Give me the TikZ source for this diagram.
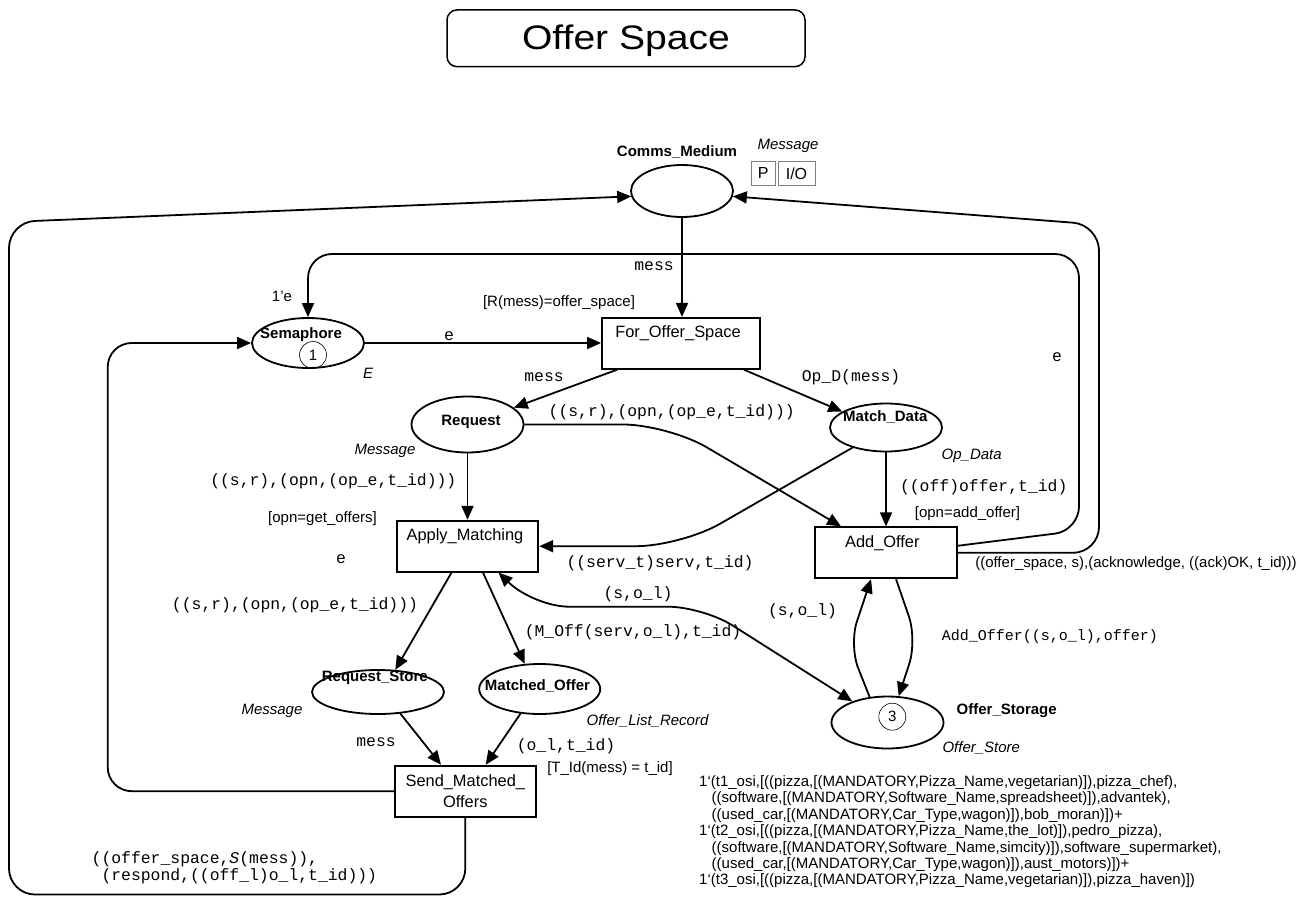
\documentclass[tikz,border=0pt]{standalone}
\usepackage{fontspec}
\usepackage{graphicx}
\setmainfont{Liberation Sans}
\setmonofont{Liberation Mono}
\usetikzlibrary{shapes.geometric,arrows.meta,calc}

\tikzset{
  place/.style={ellipse, draw, line width=1.8pt, inner sep=0pt},
  trans/.style={rectangle, draw, line width=1.8pt, inner sep=0pt},
  arc/.style={line width=1.8pt, -{Triangle[length=14pt,width=12pt]}},
  dblarc/.style={line width=1.8pt, {Triangle[length=14pt,width=12pt]}-{Triangle[length=14pt,width=12pt]}},
  pname/.style={inner sep=0pt, font=\fontsize{15}{17}\selectfont\bfseries},
  tname/.style={inner sep=0pt, font=\fontsize{16.4}{20.7}\selectfont},
  insc/.style={inner sep=0pt, font=\fontsize{16.4}{17.4}\selectfont\ttfamily},
  ptype/.style={inner sep=0pt, font=\fontsize{15}{17}\selectfont\itshape},
  guard/.style={inner sep=0pt, font=\fontsize{15}{17}\selectfont},
  token/.style={circle, draw, line width=0.6pt, minimum size=27pt, inner sep=0pt, font=\fontsize{15}{17}\selectfont},
  portbox/.style={rectangle, draw=gray, line width=0.8pt, minimum height=23.3pt, inner sep=0pt, font=\fontsize{16}{18}\selectfont}
}

\begin{document}
\begin{tikzpicture}[x=1pt,y=-1pt]
\useasboundingbox (0,0) rectangle (1313,904);

% page title
\node[draw, line width=1.5pt, rounded corners=10pt, minimum width=358pt, minimum height=56.7pt, inner sep=0pt] (title) at (626,38.3) {};
\node[anchor=base, inner sep=0pt, font=\fontsize{34}{40}\selectfont] (titletext) at (626,49.3) {\scalebox{1.15}[1]{Offer Space}};

% places
\node[place, minimum width=102pt, minimum height=52pt] (CM) at (682,191) {};
\node[place, minimum width=112pt, minimum height=50pt] (Sem) at (308,343) {};
\node[place, minimum width=112pt, minimum height=56pt] (Req) at (467.5,424.5) {};
\node[place, minimum width=112pt, minimum height=48pt] (MD) at (886,427.5) {};
\node[place, minimum width=132pt, minimum height=44pt] (RS) at (378,692) {};
\node[place, minimum width=121pt, minimum height=50pt] (MO) at (539.7,689) {};
\node[place, minimum width=112pt, minimum height=52pt] (OS) at (887.5,722.5) {};

% transitions
\node[trans, minimum width=158pt, minimum height=51pt] (FOS) at (681,343.3) {};
\node[trans, minimum width=141.6pt, minimum height=51pt] (AM) at (467.5,546.2) {};
\node[trans, minimum width=141.7pt, minimum height=51pt] (AO) at (885.8,552.8) {};
\node[trans, minimum width=140.7pt, minimum height=51pt, align=center, font=\fontsize{16.4}{20.7}\selectfont] (SMO) at (465.3,791.2) {Send\_Matched\_\\Offers};

% place names, colour sets, markings
\node[pname] (lCM) at (677,151.7) {Comms\_Medium};
\node[ptype] (tCM) at (788,146) {Message};
\node[portbox, minimum width=23.3pt] (pP) at (763.3,173.3) {P};
\node[portbox, minimum width=37pt] (pIO) at (796.5,173.3) {I/O};

\node[pname] (lSem) at (301,335) {Semaphore};
\node[token] (kSem) at (313,355) {1};
\node[ptype] (tSem) at (368,373.3) {E};
\node[guard] (iSem) at (282,296) {1'e};

\node[pname] (lReq) at (471,422) {Request};
\node[ptype] (tReq) at (385,450.7) {Message};
\node[pname] (lMD) at (885.3,416.7) {Match\_Data};
\node[ptype] (tMD) at (971.7,456) {Op\_Data};
\node[pname] (lRS) at (374.8,677.7) {Request\_Store};
\node[ptype] (tRS) at (272,710.7) {Message};
\node[pname] (lMO) at (537.5,686) {Matched\_Offer};
\node[ptype] (tMO) at (647.5,721) {Offer\_List\_Record};
\node[pname] (lOS) at (1006.7,710.7) {Offer\_Storage};
\node[ptype] (tOS) at (981.3,748.3) {Offer\_Store};
\node[token] (kOS) at (892.3,716.7) {3};

% transition names and guards
\node[tname] (lFOS) at (678,333.3) {For\_Offer\_Space};
\node[guard] (gFOS) at (559,302.3) {[R(mess)=offer\_space]};
\node[tname] (lAM) at (465,536.7) {Apply\_Matching};
\node[guard] (gAM) at (322.5,518.3) {[opn=get\_offers]};
\node[tname] (lAO) at (882.3,542.7) {Add\_Offer};
\node[guard] (gAO) at (967.5,513.3) {[opn=add\_offer]};
\node[guard] (gSMO) at (610,768.3) {[T\_Id(mess) = t\_id]};

% arcs
\draw[arc] (CM.south) -- (CM.south |- FOS.north);
\draw[arc] (Sem.east) -- (Sem.east -| FOS.west);
\draw[arc] ($(FOS.south west)+(16,0)$) -- (Req.20);
\draw[arc] ($(FOS.south east)+(-17,0)$) -- (MD.160);
\draw[arc] (Req.south) -- (Req.south |- AM.north);
\draw[arc, rounded corners=45pt] (Req.east) -- (668,424.5) -- ($(AO.north west)+(27,0)$);
\draw[arc, rounded corners=45pt] (MD.211) -- (681,546.2) -- (AM.east);
\draw[arc] (MD.south) -- (MD.south |- AO.north);
\draw[arc] ($(AM.south)+(-16,0)$) -- (RS.52);
\draw[arc] ($(AM.south)+(15.5,0)$) -- (MO.121);
\draw[arc] (RS.316) -- ($(SMO.north west)+(47,0)$);
\draw[arc] (MO.232) -- ($(SMO.north west)+(91.6,0)$);
\draw[dblarc, rounded corners=35pt] ($(AM.south)+(31,0)$) -- (534,606.7) -- (703,606.7) -- (OS.149);
\draw[arc, rounded corners=25pt] (OS.125) -- (849,645) -- ($(AO.south west)+(57,0)$);
\draw[arc, rounded corners=25pt] ($(AO.south west)+(82,0)$) -- (917,640) -- (OS.67);
\draw[arc, rounded corners=24pt] (SMO.west) -- (107.7,791.2) -- (107.7,343) -- (Sem.west);
\draw[arc, rounded corners=26pt] (SMO.south) -- (465.3,894.5) -- (9,894.5) -- (9,222) -- (CM.186);
\draw[arc, rounded corners=24pt] ($(AO.east)+(0,-7)$) -- (1079,530.6) -- (1079,254) -- (308,254) -- (Sem.north);
\draw[arc, rounded corners=26pt] (AO.east) -- (1099,552.8) -- (1099,224.7) -- (CM.354);

% arc inscriptions
\node[insc] (i1) at (654,265.7) {mess};
\node[insc] (i2) at (449,336) {e};
\node[insc] (i3) at (544,377.3) {mess};
\node[insc] (i4) at (851,377.3) {Op\_D(mess)};
\node[insc] (i5) at (671.7,412.3) {((s,r),(opn,(op\_e,t\_id)))};
\node[insc] (i6) at (333.3,481) {((s,r),(opn,(op\_e,t\_id)))};
\node[insc] (i7) at (983.7,487.3) {((off)offer,t\_id)};
\node[insc] (i8) at (341,559.3) {e};
\node[insc] (i9) at (660,563.3) {((serv\_t)serv,t\_id)};
\node[insc] (i10) at (1057,357.3) {e};
\node[guard] (i11) at (1136,563.3) {((offer\_space, s),(acknowledge, ((ack)OK, t\_id)))};
\node[insc] (i12) at (295,605) {((s,r),(opn,(op\_e,t\_id)))};
\node[insc] (i13) at (638,594) {(s,o\_l)};
\node[insc] (i14) at (633,632.7) {(M\_Off(serv,o\_l),t\_id)};
\node[insc] (i15) at (802.5,611.7) {(s,o\_l)};
\node[insc, font=\fontsize{15}{17}\selectfont\ttfamily] (i16) at (1050,636.7) {Add\_Offer((s,o\_l),offer)};
\node[insc] (i17) at (376,742.3) {mess};
\node[insc] (i18) at (566,746) {(o\_l,t\_id)};
\node[insc, align=left, anchor=north west] (i19) at (91.5,851) {((offer\_space,\textit{S}(mess)),\\\hspace*{0.6em}(respond,((off\_l)o\_l,t\_id)))};

% initial marking of Offer_Storage
\node[inner sep=0pt, anchor=north west, align=left, font=\fontsize{15}{16.4}\selectfont] (mOS) at (699,775.4) {%
1`(t1\_osi,[((pizza,[(MANDATORY,Pizza\_Name,vegetarian)]),pizza\_chef),\\
\hspace*{12.5pt}((software,[(MANDATORY,Software\_Name,spreadsheet)]),advantek),\\
\hspace*{12.5pt}((used\_car,[(MANDATORY,Car\_Type,wagon)]),bob\_moran)])+\\
1`(t2\_osi,[((pizza,[(MANDATORY,Pizza\_Name,the\_lot)]),pedro\_pizza),\\
\hspace*{12.5pt}((software,[(MANDATORY,Software\_Name,simcity)]),software\_supermarket),\\
\hspace*{12.5pt}((used\_car,[(MANDATORY,Car\_Type,wagon)]),aust\_motors)])+\\
1`(t3\_osi,[((pizza,[(MANDATORY,Pizza\_Name,vegetarian)]),pizza\_haven)])};

\end{tikzpicture}
\end{document}
